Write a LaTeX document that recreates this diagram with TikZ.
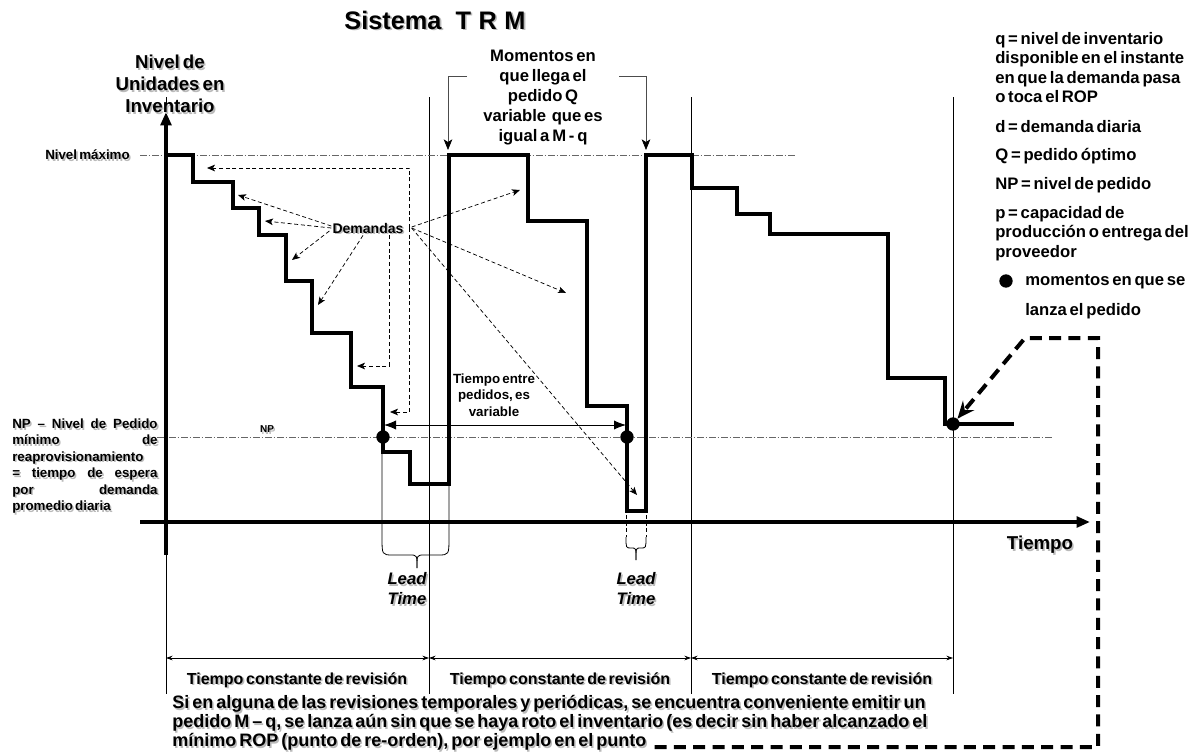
\documentclass[tikz,border=0pt]{standalone}
\usepackage{fontspec}
\newfontfamily\lsans[WordSpace=0.6]{Liberation Sans}
\usetikzlibrary{arrows.meta,calc}

\newcommand\fsz[2]{\fontsize{#1}{#2}\selectfont}
% text with a soft grey drop shadow
\newcommand\shtext[4][]{%
  \node[lbl,#1,shade] at ($(#3)+(1.6,1.6)$) {#4};
  \node[lbl,#1] (#2) at (#3) {#4};}

\tikzset{
  lbl/.style={font=\lsans\bfseries, inner sep=0pt, text=black},
  shade/.style={text=black!27},
  stair/.style={line width=2.3pt, line join=miter, line cap=rect},
  axis/.style={line width=2.6pt, -{Triangle[length=10pt,width=8pt]}},
  thinln/.style={line width=0.6pt},
  dashdot/.style={line width=0.5pt, black!60, dash pattern=on 5pt off 1.5pt on 1pt off 1.5pt},
  dem/.style={line width=0.55pt, dash pattern=on 3pt off 2pt, -{Stealth[length=6pt,width=5pt,inset=1.5pt]}},
  dot/.style={circle, fill=black, inner sep=0pt, minimum size=10pt},
  bracket/.style={line width=0.6pt, black!70, -{Stealth[length=8pt,width=6.5pt,inset=2pt,black]}},
  revarr/.style={line width=0.6pt, {Stealth[length=5pt,width=3.5pt]}-{Stealth[length=5pt,width=3.5pt]}},
  shortdash/.style={line width=0.6pt, dash pattern=on 3pt off 2pt},
  bigdash/.style={line width=3pt, dash pattern=on 9pt off 5.5pt, -{Stealth[length=13pt,width=11pt,inset=4.5pt]}},
  notefont/.style={font={\lsans\bfseries\fsz{13.5}{15}}, anchor=west},
}

\begin{document}
\begin{tikzpicture}[x=0.75pt,y=-0.75pt]
\useasboundingbox (0,0) rectangle (1204,753);

% review period boundaries
\foreach \xx in {166,429,691,953}
  \draw[thinln] (\xx,97) -- (\xx,694);

% reference levels
\draw[dashdot] (140,155) -- (795,155);
\draw[dashdot] (157,437) -- (1052,437);

% lead-time guides and braces
\draw[thinln] (382,452) -- (382,537) .. controls (382,555) .. (393,555) -- (410,555) .. controls (417,555) .. (417,568);
\draw[thinln] (449,484) -- (449,537) .. controls (449,555) .. (438,555) -- (424,555) .. controls (417,555) .. (417,568);
\draw[shortdash] (626,515) -- (626,537);
\draw[shortdash] (646,515) -- (646,537);
\draw[thinln] (626,537) .. controls (626,548) .. (631,548) -- (632,548) .. controls (636,548) .. (636,560);
\draw[thinln] (646,537) .. controls (646,548) .. (641,548) -- (640,548) .. controls (636,548) .. (636,560);

% inventory level
\draw[stair] (166,155) -- (193,155) -- (193,182) -- (233,182) -- (233,208) -- (259,208)
  -- (259,235) -- (286,235) -- (286,281) -- (312,281) -- (312,333) -- (351,333)
  -- (351,387) -- (383,387) -- (383,452) -- (410,452) -- (410,484) -- (449,484)
  -- (449,155) -- (528,155) -- (528,221) -- (587,221) -- (587,406) -- (627,406)
  -- (627,511) -- (646,511) -- (646,155) -- (692,155) -- (692,188) -- (737,188)
  -- (737,214) -- (770,214) -- (770,234) -- (888,234) -- (888,378) -- (945,378)
  -- (945,424) -- (1012,424);

% axes
\draw[axis] (140,522) -- (1090,522);
\draw[axis] (166,555) -- (166,112);

% order points
\node[dot] (dot1) at (383,437) {};
\node[dot] (dot2) at (627,437) {};
\node[dot] (dot3) at (953,424) {};

% time between orders
\coordinate (te1) at (384,425);
\coordinate (te2) at (626,425);
\draw[line width=0.7pt, {Latex[length=9pt,width=7pt]}-{Latex[length=9pt,width=7pt]}] (te1) -- (te2);
\node[lbl, font={\lsans\bfseries\fsz{10}{12.4}}, align=center] (tentre) at (494,395) {Tiempo entre\\pedidos, es\\variable};

% demands
\shtext[font={\lsans\bfseries\fsz{10.5}{12}}]{dem}{368,228}{Demandas}
\coordinate (demW) at ($(dem.west)+(-1,0)$);
\coordinate (demE) at ($(dem.east)+(6,0)$);
\coordinate (demS1) at ($(dem.south)+(-5,2)$);
\coordinate (demS2) at ($(dem.south)+(21,2)$);
\coordinate (a1) at (238,195);
\coordinate (a2) at (265,221);
\coordinate (a3) at (292,260);
\coordinate (a4) at (318,305);
\coordinate (a5) at (357,366);
\coordinate (a6) at (207,168);
\coordinate (a7) at (390,412);
\coordinate (a8) at (520,190);
\coordinate (a9) at (566,293);
\coordinate (a10) at (637,495);
\draw[dem] ($(demW)+(0,-2)$) -- (a1);
\draw[dem] (demW) -- (a2);
\draw[dem] ($(demW)+(-2,3)$) -- (a3);
\draw[dem] (demS1) -- (a4);
\draw[dem] (demS2) -- (demS2 |- a5) -- (a5);
\draw[dem] (demE) -- (demE |- a6) -- (a6);
\draw[dem] (demE) -- (demE |- a7) -- (a7);
\draw[dem] ($(demE)+(2,-1)$) -- (a8);
\draw[dem] ($(demE)+(2,0)$) -- (a9);
\draw[dem] ($(demE)+(2,0)$) -- (a10);

% arrivals of the order
\node[lbl, font={\lsans\bfseries\fsz{12.5}{15}}, align=center] (mom) at (543,98)
  {Momentos en\\que llega el\\pedido Q\\variable \ que es\\igual a M - q};
\coordinate (mL) at (467,76);
\coordinate (mR) at (619,76);
\coordinate (arr1) at (448,150);
\coordinate (arr2) at (646,150);
\draw[bracket] (mL) -- (arr1 |- mL) -- (arr1);
\draw[bracket] (mR) -- (arr2 |- mR) -- (arr2);

% titles and axis labels
\shtext[font={\lsans\bfseries\fsz{19}{22}}]{title}{435,20}{Sistema\hspace{0.55em}T\hspace{0.3em}R\hspace{0.3em}M}
\shtext[font={\lsans\bfseries\fsz{14}{16.5}}, align=center]{ylab}{170,84}{Nivel de\\Unidades en\\Inventario}
\shtext[font={\lsans\bfseries\fsz{10}{12}}, anchor=east]{nmax}{130,155}{Nivel máximo}
\shtext[font={\lsans\bfseries\fsz{7.5}{9}}]{np}{267,429}{NP}
\shtext[font={\lsans\bfseries\fsz{14}{16}}]{tx}{1040,545}{Tiempo}
\shtext[font={\lsans\bfseries\fsz{10}{12.3}}, anchor=west, align=left]{npblk}{12,466}{%
  \makebox[109pt][s]{NP – Nivel de Pedido}\\
  \makebox[109pt][s]{mínimo de}\\
  reaprovisionamiento\\
  \makebox[109pt][s]{= tiempo de espera}\\
  \makebox[109pt][s]{por demanda}\\
  promedio diaria}

% lead times
\shtext[font={\lsans\bfseries\itshape\fsz{12.5}{15}}, align=center]{lt1}{407,589}{Lead\\Time}
\shtext[font={\lsans\bfseries\itshape\fsz{12.5}{15}}, align=center]{lt2}{636,589}{Lead\\Time}

% review periods
\coordinate (r0) at (166,658);
\coordinate (r1) at (429,658);
\coordinate (r2) at (691,658);
\coordinate (r3) at (953,658);
\draw[revarr] (r0) -- (r1);
\draw[revarr] (r1) -- (r2);
\draw[revarr] (r2) -- (r3);
\shtext[font={\lsans\bfseries\fsz{12}{14}}]{rev1}{297,680}{Tiempo constante de revisión}
\shtext[font={\lsans\bfseries\fsz{12}{14}}]{rev2}{560,680}{Tiempo constante de revisión}
\shtext[font={\lsans\bfseries\fsz{12}{14}}]{rev3}{822,680}{Tiempo constante de revisión}

% note
\shtext[notefont]{para1}{172,704}{Si en alguna de las revisiones temporales y periódicas, se encuentra conveniente emitir un}
\shtext[notefont]{para2}{172,723}{pedido M – q, se lanza aún sin que se haya roto el inventario (es decir sin haber alcanzado el}
\shtext[notefont]{para3}{172,742}{mínimo ROP (punto de re-orden), por ejemplo en el punto}
\coordinate (dA) at ($(para3.east)+(8,0)$);
\coordinate (dB) at (1098,747);
\coordinate (dC) at (1098,338);
\coordinate (dD) at (1025,338);
\draw[bigdash] (dA |- dB) -- (dB) -- (dC) -- (dD) -- (dot3);

% legend
\node[lbl, font={\lsans\bfseries\fsz{12.5}{14.6}}, anchor=west, align=left] (lg1) at (995,67.5)
  {q = nivel de inventario\\disponible en el instante\\en que la demanda pasa\\o toca el ROP};
\node[lbl, font={\lsans\bfseries\fsz{12.5}{14.6}}, anchor=west] (lg2) at (995,127) {d = demanda diaria};
\node[lbl, font={\lsans\bfseries\fsz{12.5}{14.6}}, anchor=west] (lg3) at (995,156) {Q = pedido óptimo};
\node[lbl, font={\lsans\bfseries\fsz{12.5}{14.6}}, anchor=west] (lg4) at (995,185) {NP = nivel de pedido};
\node[lbl, font={\lsans\bfseries\fsz{12.5}{14.6}}, anchor=west, align=left] (lg5) at (995,233.5)
  {p = capacidad de\\producción o entrega del\\proveedor};
\node[dot] (lgdot) at (1006,281) {};
\node[lbl, font={\lsans\bfseries\fsz{12.5}{14.6}}, anchor=west] (lg6) at (1025,282) {momentos en que se};
\node[lbl, font={\lsans\bfseries\fsz{12.5}{14.6}}, anchor=west] (lg7) at (1025,311) {lanza el pedido};
\end{tikzpicture}
\end{document}
